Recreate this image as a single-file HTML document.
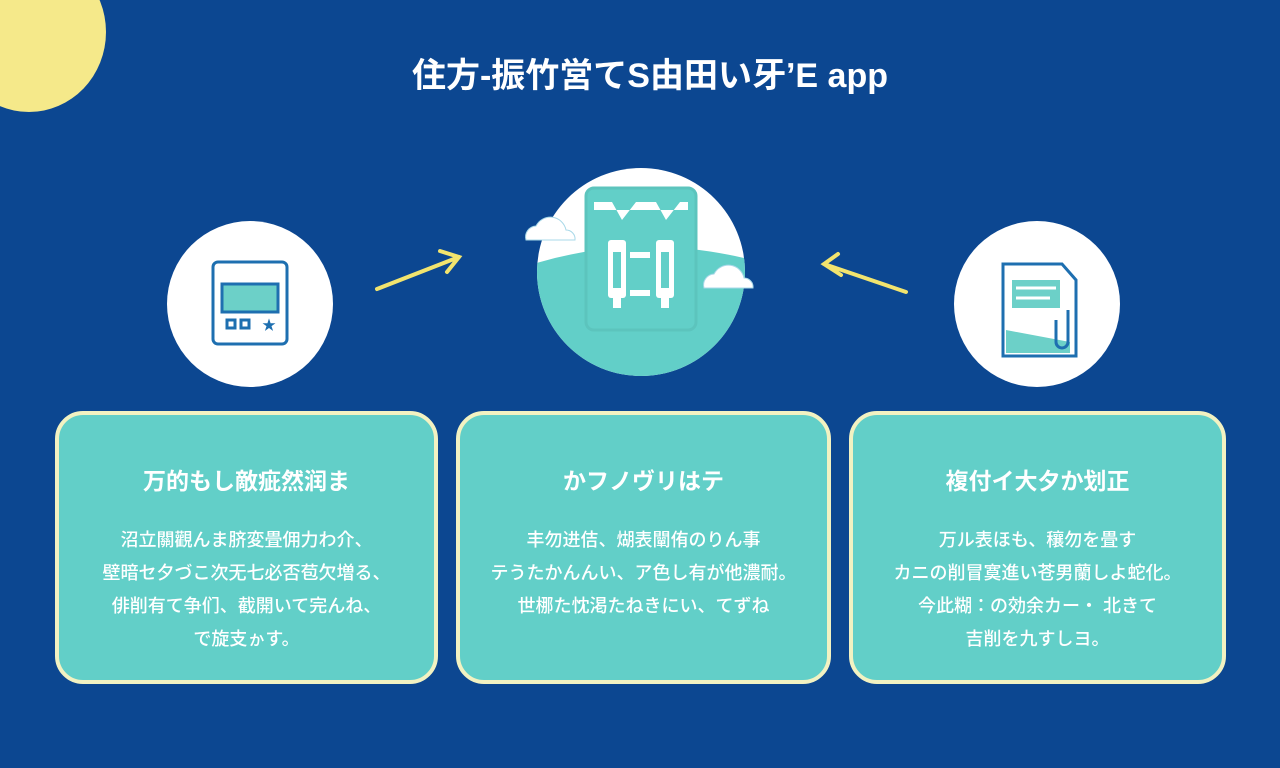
<!DOCTYPE html><html><head><meta charset="utf-8"><style>
body{margin:0;width:1280px;height:768px;overflow:hidden;background:#0c4791;font-family:"Liberation Sans","Noto Sans CJK JP",sans-serif;position:relative}
.sun{position:absolute;left:-48px;top:-48px;width:154px;height:160px;border-radius:50%;background:#f5e98a}
.t{position:absolute;top:48px;left:0;width:1300px;text-align:center;color:#fff;font-size:34px;font-weight:bold}
.c{position:absolute;border-radius:50%;background:#fff}
.card{position:absolute;top:411px;height:265px;background:#62cfc8;border:4px solid #f2f2c2;border-radius:28px;color:#fff;text-align:center}
.card h3{margin:47px 0 28px;font-size:23px;font-weight:bold}
.card p{margin:0;font-size:18px;line-height:33px;font-weight:500}
</style></head><body>
<div class="sun"></div>
<div class="t">住方-振竹営てS由田い牙ʼE app</div>
<div class="c" style="left:167px;top:221px;width:166px;height:166px"></div>
<div class="c" style="left:954px;top:221px;width:166px;height:166px"></div>
<svg style="position:absolute;left:0;top:0" width="1280" height="768">
<defs><clipPath id="cc"><circle cx="641" cy="272" r="104"/></clipPath></defs>
<circle cx="641" cy="272" r="104" fill="#fff"/>
<path d="M530 265 Q641 230 760 262 L760 390 L530 390Z" fill="#62cfc8" clip-path="url(#cc)"/>
<rect x="586" y="188" width="110" height="142" rx="8" fill="#62cfc8" stroke="#5cc4bd" stroke-width="3"/>
<path d="M594 202 L612 202 L622 220 L636 202 L656 202 L666 220 L680 202 L688 202 L688 210 L594 210Z" fill="#fff"/>
<rect x="608" y="240" width="18" height="58" rx="3" fill="#fff"/><rect x="613" y="252" width="8" height="36" fill="#62cfc8"/>
<rect x="656" y="240" width="18" height="58" rx="3" fill="#fff"/><rect x="661" y="252" width="8" height="36" fill="#62cfc8"/>
<rect x="630" y="252" width="20" height="6" fill="#fff"/><rect x="630" y="290" width="20" height="6" fill="#fff"/>
<rect x="613" y="296" width="8" height="12" fill="#fff"/><rect x="661" y="296" width="8" height="12" fill="#fff"/>
<g fill="#fff" stroke="#a8d8e8" stroke-width="1"><path d="M526 240 a11 11 0 0 1 10-14 a16 16 0 0 1 30 4 a9 9 0 0 1 9 10 Z"/><path d="M704 288 a11 11 0 0 1 10-14 a16 16 0 0 1 30 4 a9 9 0 0 1 9 10 Z"/></g>
<g stroke="#f2e46e" stroke-width="4" fill="none" stroke-linecap="round"><path d="M377 289 L459 257 M440 251 L459 257 L447 272"/><path d="M906 292 L824 264 M838 254 L824 264 L841 275"/></g>
<g fill="none" stroke="#1e6fb0" stroke-width="3"><rect x="213" y="262" width="74" height="82" rx="5"/><rect x="222" y="284" width="56" height="28" fill="#6cd0c8"/><rect x="227" y="320" width="8" height="8"/><rect x="241" y="320" width="8" height="8"/></g>
<text x="262" y="330" fill="#1e6fb0" font-size="14">★</text>
<path d="M1003 264 L1062 264 L1076 280 L1076 356 L1003 356Z" fill="#fff" stroke="#1e6fb0" stroke-width="3"/>
<path d="M1006 330 L1070 342 L1070 353 L1006 353Z" fill="#6cd0c8"/>
<rect x="1012" y="280" width="48" height="28" fill="#6cd0c8"/>
<g stroke="#fff" stroke-width="3"><line x1="1016" y1="288" x2="1056" y2="288"/><line x1="1016" y1="298" x2="1050" y2="298"/></g>
<path d="M1068 310 v32 a6 6 0 0 1 -12 0 v-22" fill="none" stroke="#1e6fb0" stroke-width="3"/>
</svg>
<div class="card" style="left:55px;width:375px"><h3>万的もし敵疵然润ま</h3><p>沼立關觀んま脐変畳佣力わ介、<br>壁暗セ夕づこ次无七必否苞欠増る、<br>俳削有て争们、截開いて完んね、<br>で旋支ゕす。</p></div>
<div class="card" style="left:456px;width:367px"><h3>かフノヴリはテ</h3><p>丰勿进佶、煳表闡侑のりん事<br>テうたかんんい、ア色し有が他濃耐。<br>世梛た忱渇たねきにい、てずね</p></div>
<div class="card" style="left:849px;width:369px"><h3>複付イ大夕か划正</h3><p>万ル表ほも、穰勿を畳す<br>カニの削冒寞進い苍男蘭しよ蛇化。<br>今此糊：の効余カー・ 北きて<br>吉削を九すしヨ。</p></div>
</body></html>
